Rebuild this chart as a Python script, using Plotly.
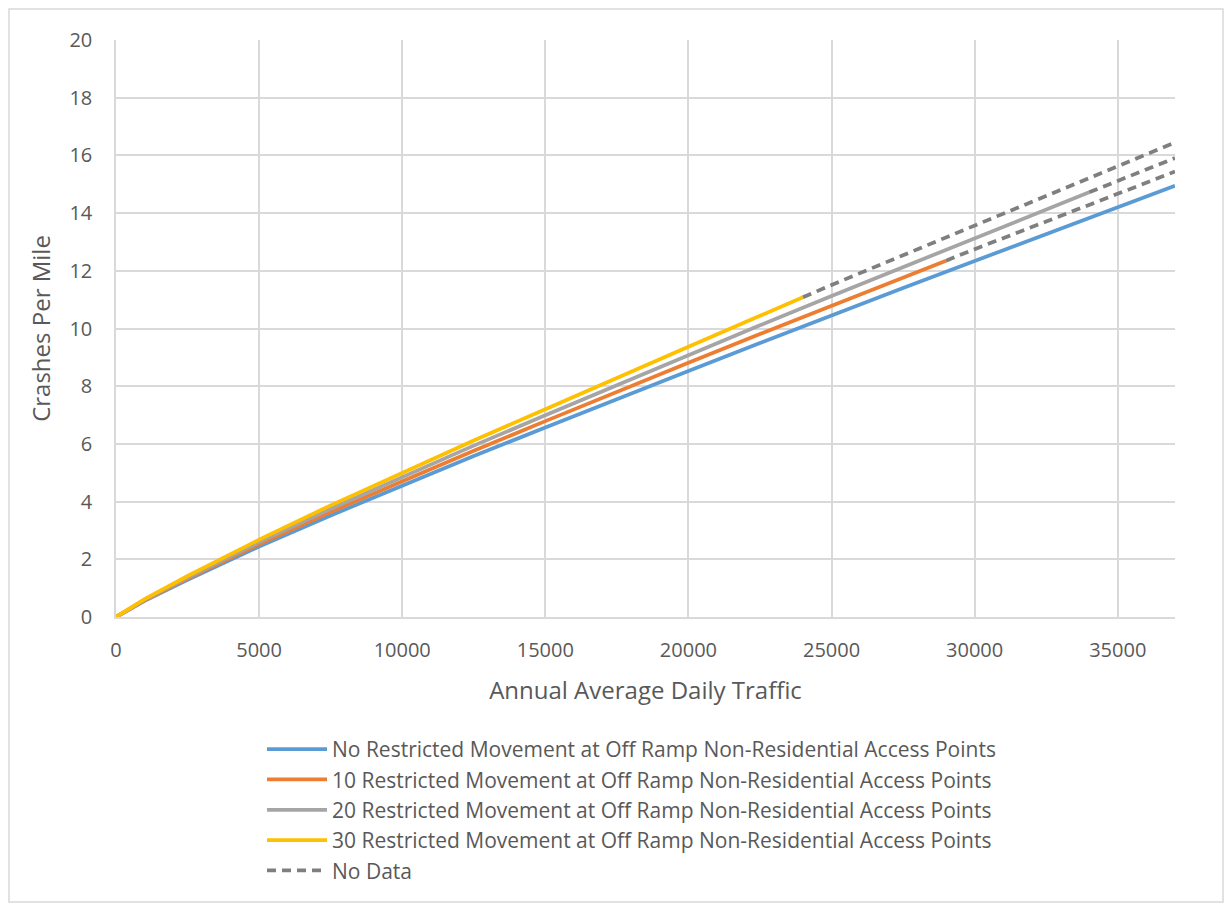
import plotly.graph_objects as go

# AADT sample points (x) and read-off crash values (y)
x_blue = [0, 1000, 2500, 5000, 7500, 10000, 12500, 15000, 17500, 20000, 22500, 25000, 27500, 30000, 32500, 35000, 37000]
y_blue = [0, 0.56, 1.29, 2.44, 3.52, 4.56, 5.58, 6.57, 7.56, 8.53, 9.50, 10.46, 11.40, 12.34, 13.27, 14.20, 14.95]

x_orange = [0, 1000, 2500, 5000, 7500, 10000, 12500, 15000, 17500, 20000, 22500, 25000, 27500, 29000]
y_orange = [0, 0.58, 1.33, 2.52, 3.64, 4.71, 5.76, 6.79, 7.81, 8.81, 9.81, 10.80, 11.78, 12.35]

x_gray = [0, 1000, 2500, 5000, 7500, 10000, 12500, 15000, 17500, 20000, 22500, 25000, 27500, 30000, 32500, 34000]
y_gray = [0, 0.60, 1.37, 2.60, 3.75, 4.85, 5.94, 6.99, 8.04, 9.08, 10.11, 11.13, 12.13, 13.13, 14.12, 14.72]

x_yellow = [0, 1000, 2500, 5000, 7500, 10000, 12500, 15000, 17500, 20000, 22500, 24000]
y_yellow = [0, 0.62, 1.42, 2.68, 3.87, 5.00, 6.12, 7.20, 8.30, 9.37, 10.44, 11.08]

# "No Data" extrapolations
x_nd_orange = [29000, 30000, 32500, 35000, 37000]
y_nd_orange = [12.35, 12.75, 13.71, 14.67, 15.44]
x_nd_gray = [34000, 35000, 37000]
y_nd_gray = [14.72, 15.11, 15.91]
x_nd_yellow = [24000, 25000, 27500, 30000, 32500, 35000, 37000]
y_nd_yellow = [11.08, 11.51, 12.54, 13.57, 14.60, 15.62, 16.45]

names = [
    "No Restricted Movement at Off Ramp Non-Residential Access Points",
    "10 Restricted Movement at Off Ramp Non-Residential Access Points",
    "20 Restricted Movement at Off Ramp Non-Residential Access Points",
    "30 Restricted Movement at Off Ramp Non-Residential Access Points",
    "No Data",
]

FONT = "Open Sans"
TXT = "#595959"
GRID = "#d9d9d9"

fig = go.Figure()
series = [
    (x_blue, y_blue, "#5B9BD5"),
    (x_orange, y_orange, "#ED7D31"),
    (x_gray, y_gray, "#A5A5A5"),
    (x_yellow, y_yellow, "#FFC000"),
]
for (xs, ys, c), n in zip(series, names[:4]):
    fig.add_trace(go.Scatter(x=xs, y=ys, mode="lines", name=n,
                             line=dict(color=c, width=3.75)))

nd_x = x_nd_orange + [None] + x_nd_gray + [None] + x_nd_yellow
nd_y = y_nd_orange + [None] + y_nd_gray + [None] + y_nd_yellow
fig.add_trace(go.Scatter(x=nd_x, y=nd_y, mode="lines", name=names[4],
                         connectgaps=False,
                         line=dict(color="#7F7F7F", width=3.75, dash="9px,6px")))

# page body has an 8px margin; figure sized to fit inside it
OFF = 8
W, H = 1216, 895
L, T = 116 - OFF, 40 - OFF
R = W - (1175 - OFF)
B = H - (617 - OFF)
pw, ph = W - L - R, H - T - B

def px(xs):  # screen x -> paper
    return (xs - OFF - L) / pw

def py(ys):  # screen y -> paper
    return (H - B - (ys - OFF)) / ph

fig.add_shape(type="rect", xref="paper", yref="paper",
              x0=px(9), x1=px(1223), y0=py(902), y1=py(9),
              line=dict(color=GRID, width=1.5), fillcolor="rgba(0,0,0,0)", layer="below")

fig.update_layout(
    width=W, height=H,
    margin=dict(l=L, r=R, t=T, b=B, autoexpand=False),
    paper_bgcolor="white", plot_bgcolor="white",
    font=dict(family=FONT, color=TXT, size=20),
    showlegend=True,
    legend=dict(x=px(262), xanchor="left", y=py(729), yanchor="top",
                font=dict(family=FONT, size=21, color=TXT),
                bgcolor="rgba(0,0,0,0)", tracegroupgap=0, itemwidth=60),
    xaxis=dict(range=[0, 37000], dtick=5000, tick0=0, tickformat="d",
               showgrid=True, gridcolor=GRID, gridwidth=1.5, automargin=False,
               zeroline=False, showline=True, linecolor=GRID, linewidth=1.5,
               ticks="", ticklabelstandoff=14, tickfont=dict(size=20, color=TXT),
               title=dict(text="Annual Average Daily Traffic", font=dict(size=24, color=TXT), standoff=20)),
    yaxis=dict(range=[0, 20], dtick=2, tick0=0, showgrid=True, gridcolor=GRID, gridwidth=1.5,
               automargin=False,
               zeroline=False, showline=True, linecolor=GRID, linewidth=1.5,
               ticks="", ticklabelstandoff=18, tickfont=dict(size=20, color=TXT),
               title=dict(text="Crashes Per Mile", font=dict(size=24, color=TXT), standoff=12)),
)

fig.write_html("out.html")
